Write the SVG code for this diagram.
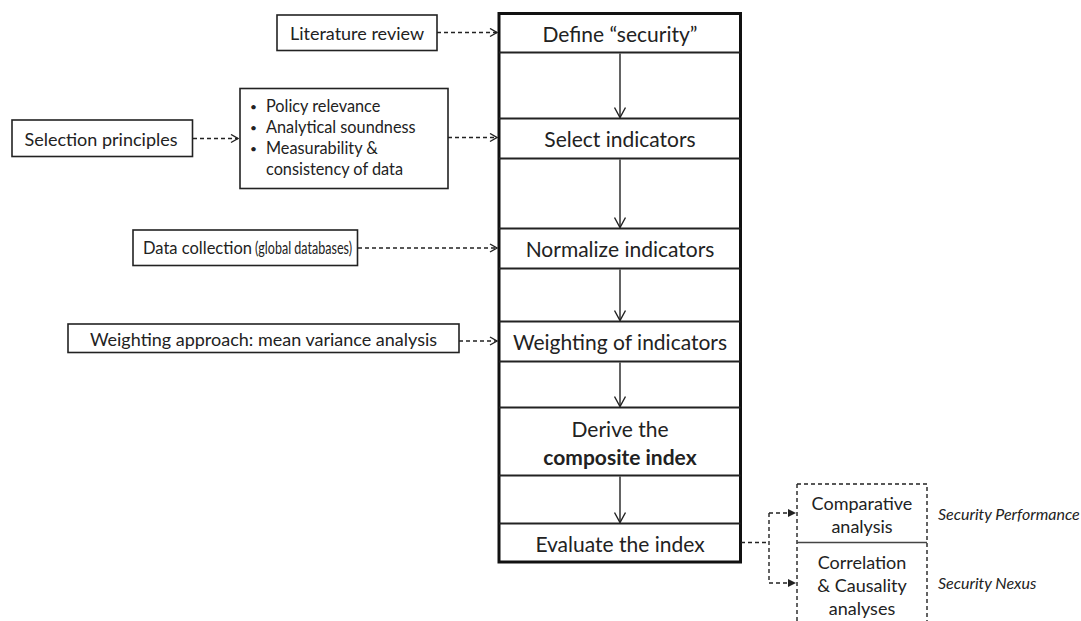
<svg xmlns="http://www.w3.org/2000/svg" width="1081" height="621" viewBox="0 0 1081 621">
<style>
  text { font-family: Lato, "Liberation Sans", sans-serif; fill: #222; }
  .main { font-size: 21px; text-anchor: middle; dominant-baseline: central; }
  .side { font-size: 18px; text-anchor: middle; dominant-baseline: central; }
  .sidel { font-size: 16.5px; text-anchor: start; dominant-baseline: central; }
  .blt { font-size: 16.3px; }
  .dot { font-size: 12px; }
  .lbl { font-size: 16px; font-style: italic; dominant-baseline: central; }
  .box { fill: #fff; stroke: #222; stroke-width: 1.6; }
  .sep { stroke: #222; stroke-width: 2; fill: none; }
  .flow { stroke: #222; stroke-width: 1.4; fill: none; marker-end: url(#vhead); }
  .dash { stroke: #222; stroke-width: 1.4; fill: none; stroke-dasharray: 4 3; }
  .dasharrow { marker-end: url(#openhead); }
  .fillarrow { marker-end: url(#filledhead); }
</style>
<defs>
  <marker id="vhead" markerUnits="userSpaceOnUse" viewBox="0 0 12 12" refX="11" refY="6" markerWidth="12" markerHeight="12" orient="auto">
    <path d="M1,0.5 L11,6 L1,11.5" fill="none" stroke="#222" stroke-width="1.4"/>
  </marker>
  <marker id="openhead" markerUnits="userSpaceOnUse" viewBox="0 0 10 10" refX="9" refY="5" markerWidth="10" markerHeight="10" orient="auto">
    <path d="M2,1 L9,5 L2,9" fill="none" stroke="#222" stroke-width="1.4"/>
  </marker>
  <marker id="filledhead" markerUnits="userSpaceOnUse" viewBox="0 0 10 10" refX="9" refY="5" markerWidth="10" markerHeight="10" orient="auto">
    <path d="M1,1 L9,5 L1,9 Z" fill="#222"/>
  </marker>
</defs>

<g id="column">
  <rect x="499" y="13.5" width="241.5" height="548.5" fill="#fff" stroke="#111" stroke-width="3"/>
  <line class="sep" x1="499" y1="52.5" x2="740.5" y2="52.5"/>
  <line class="sep" x1="499" y1="118.5" x2="740.5" y2="118.5"/>
  <line class="sep" x1="499" y1="158.5" x2="740.5" y2="158.5"/>
  <line class="sep" x1="499" y1="228.5" x2="740.5" y2="228.5"/>
  <line class="sep" x1="499" y1="268.5" x2="740.5" y2="268.5"/>
  <line class="sep" x1="499" y1="321.5" x2="740.5" y2="321.5"/>
  <line class="sep" x1="499" y1="361.5" x2="740.5" y2="361.5"/>
  <line class="sep" x1="499" y1="407.5" x2="740.5" y2="407.5"/>
  <line class="sep" x1="499" y1="475.5" x2="740.5" y2="475.5"/>
  <line class="sep" x1="499" y1="523.5" x2="740.5" y2="523.5"/>
</g>
<g id="step-define"><text class="main" x="620" y="33">Define “security”</text></g>
<g id="step-select"><text class="main" x="620" y="138.5">Select indicators</text></g>
<g id="step-normalize"><text class="main" x="620" y="248.5">Normalize indicators</text></g>
<g id="step-weighting"><text class="main" x="620" y="341.5">Weighting of indicators</text></g>
<g id="step-derive">
  <text class="main" x="620" y="428">Derive the</text>
  <text class="main" x="620" y="456" font-weight="bold">composite index</text>
</g>
<g id="step-evaluate"><text class="main" x="620" y="543">Evaluate the index</text></g>

<g id="lit-review">
  <rect class="box" x="277" y="15" width="160" height="35.5"/>
  <text class="side" x="357" y="33">Literature review</text>
</g>
<g id="selection-principles">
  <rect class="box" x="12" y="120" width="180.5" height="36.5"/>
  <text class="side" x="101" y="138.5">Selection principles</text>
</g>
<g id="principles-list">
  <rect class="box" x="240" y="88.5" width="208" height="100"/>
  <text class="dot" x="250" y="110.5">•</text>
  <text class="blt" x="266" y="111.5">Policy relevance</text>
  <text class="dot" x="250" y="131.5">•</text>
  <text class="blt" x="266" y="132.5">Analytical soundness</text>
  <text class="dot" x="250" y="152.5">•</text>
  <text class="blt" x="266" y="153.5">Measurability &amp;</text>
  <text class="blt" x="266" y="174.5">consistency of data</text>
</g>
<g id="data-collection">
  <rect class="box" x="133" y="230" width="224.5" height="35.5"/>
  <text class="sidel" x="143" y="248">Data collection</text>
  <text class="sidel" x="255" y="248" textLength="97" lengthAdjust="spacingAndGlyphs">(global databases)</text>
</g>
<g id="weighting-approach">
  <rect class="box" x="68" y="324" width="391" height="28.5"/>
  <text class="side" x="263.5" y="338.5">Weighting approach: mean variance analysis</text>
</g>
<g id="analysis-box">
  <path class="dash" d="M797,484 H927 V640 M797,484 V640"/>
  <line x1="797" y1="542.5" x2="927" y2="542.5" stroke="#444" stroke-width="1.6"/>
  <text class="side" x="862" y="503">Comparative</text>
  <text class="side" x="862" y="526">analysis</text>
  <text class="side" x="862" y="562">Correlation</text>
  <text class="side" x="862" y="585">&amp; Causality</text>
  <text class="side" x="862" y="608">analyses</text>
</g>
<g id="label-performance"><text class="lbl" x="938" y="513">Security Performance</text></g>
<g id="label-nexus"><text class="lbl" x="938" y="582">Security Nexus</text></g>

<g id="connectors">
  <line class="flow" x1="620" y1="53.5" x2="620" y2="117.5"/>
  <line class="flow" x1="620" y1="159.5" x2="620" y2="227.5"/>
  <line class="flow" x1="620" y1="269.5" x2="620" y2="320.5"/>
  <line class="flow" x1="620" y1="362.5" x2="620" y2="406.5"/>
  <line class="flow" x1="620" y1="476.5" x2="620" y2="522.5"/>
  <line class="dash dasharrow" x1="437" y1="32.5" x2="497" y2="32.5"/>
  <line class="dash dasharrow" x1="193" y1="138.5" x2="238" y2="138.5"/>
  <line class="dash dasharrow" x1="448" y1="137.5" x2="497" y2="137.5"/>
  <line class="dash dasharrow" x1="358" y1="248" x2="497" y2="248"/>
  <line class="dash dasharrow" x1="459" y1="341" x2="497" y2="341"/>
  <path class="dash" d="M741,542.5 H769 M769,513 V583"/>
  <line class="dash fillarrow" x1="769" y1="513" x2="796" y2="513"/>
  <line class="dash fillarrow" x1="769" y1="583" x2="796" y2="583"/>
</g>
</svg>
